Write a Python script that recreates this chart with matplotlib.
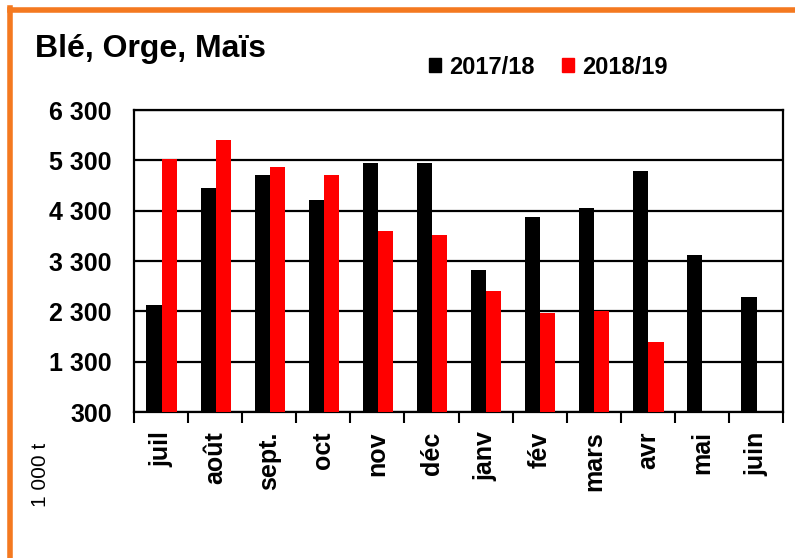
import matplotlib.pyplot as plt
from matplotlib.lines import Line2D
from matplotlib.patches import Patch
import numpy as np

plt.rcParams['font.family'] = ['Liberation Sans', 'DejaVu Sans']

months = ['juil', 'août', 'sept.', 'oct', 'nov', 'déc', 'janv', 'fév', 'mars', 'avr', 'mai', 'juin']
s_2017 = [2430, 4760, 5010, 4515, 5250, 5250, 3120, 4180, 4350, 5085, 3410, 2590]
s_2018 = [5330, 5700, 5165, 5010, 3900, 3820, 2710, 2260, 2310, 1690, np.nan, np.nan]
yticks = [300, 1300, 2300, 3300, 4300, 5300, 6300]

fig = plt.figure(figsize=(7.95, 5.58), dpi=100)
ax = fig.add_axes([0.1686, 0.2616, 0.8164, 0.5412])

x = np.arange(len(months))
w = 0.28
ax.bar(x - 0.13, np.array(s_2017) - 300, w, bottom=300, color='black', zorder=3)
ax.bar(x + 0.15, np.array(s_2018) - 300, w, bottom=300, color='#ff0000', zorder=3)

ax.set_ylim(300, 6300)
ax.set_xlim(-0.5, len(months) - 0.5)
ax.set_yticks(yticks)
ax.set_yticklabels(['{:,}'.format(v).replace(',', ' ') for v in yticks],
                   fontsize=18, fontweight='bold')
ax.tick_params(axis='y', length=0, pad=16)
ax.yaxis.grid(True, color='black', lw=1.6, zorder=1)

ax.set_xticks(x)
ax.set_xticklabels(months, rotation=90, fontsize=18, fontweight='bold', va='top')
ax.tick_params(axis='x', which='major', length=0, pad=14)
ax.set_xticks(np.arange(-0.5, len(months)), minor=True)
ax.tick_params(axis='x', which='minor', length=8, width=1.5, direction='out')

for sp in ax.spines.values():
    sp.set_linewidth(1.6)

fig.text(35 / 795, 1 - 49 / 558, 'Blé, Orge, Maïs', fontsize=23, fontweight='bold',
         va='center', ha='left')
fig.text(40 / 795, 1 - 475 / 558, '1 000 t', fontsize=15, rotation=90,
         va='center', ha='center')

handles = [Patch(color='black', label='2017/18'), Patch(color='#ff0000', label='2018/19')]
fig.legend(handles=handles, loc='center', bbox_to_anchor=(0.69, 1 - 67 / 558), ncol=2,
           frameon=False, prop={'size': 17, 'weight': 'bold'},
           handlelength=0.5, handleheight=0.5, handletextpad=0.35, columnspacing=1.15)

orange = '#f47920'
fig.add_artist(Line2D([10 / 795, 1], [1 - 10 / 558, 1 - 10 / 558], color=orange, lw=4,
                      transform=fig.transFigure))
fig.add_artist(Line2D([10 / 795, 10 / 795], [0, 1 - 8 / 558], color=orange, lw=4,
                      transform=fig.transFigure))

fig.savefig('out.png', dpi=100)
